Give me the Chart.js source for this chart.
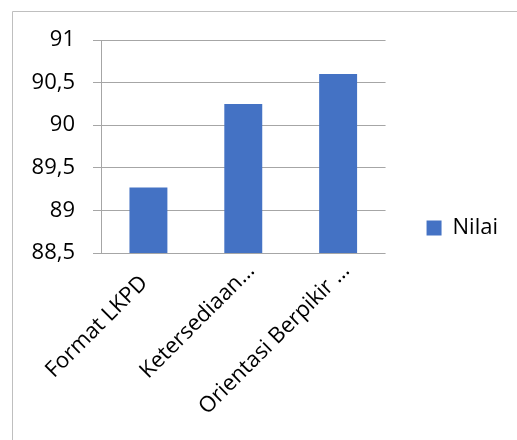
<!DOCTYPE html>
<html>
<head>
<meta charset="utf-8">
<script src="https://cdn.jsdelivr.net/npm/chart.js@4/dist/chart.umd.min.js"></script>
<style>
  html, body { margin: 0; padding: 0; background: #fff; }
  #wrap { position: relative; width: 517px; height: 440px; }
</style>
</head>
<body>
<div id="wrap"><canvas id="chart" width="517" height="440"></canvas></div>
<script>
// Bar chart of "Nilai" per LKPD aspect

const categories = ['Format LKPD', 'Ketersediaan…', 'Orientasi Berpikir …'];
const nilai = [89.27, 90.25, 90.6];
const yMin = 88.5;
const yMax = 91;
const yStep = 0.5;

const FONT = { family: '"Open Sans", sans-serif', size: 22 };
const GRID_COLOR = '#a6a6a6';

// Frame line around the chart object (top and left edges are visible)
const framePlugin = {
    id: 'frame',
    beforeDraw(chart) {
        const ctx = chart.ctx;
        ctx.save();
        ctx.strokeStyle = '#bfbfbf';
        ctx.lineWidth = 1;
        ctx.beginPath();
        ctx.moveTo(12.5, chart.height);
        ctx.lineTo(12.5, 11.5);
        ctx.lineTo(chart.width, 11.5);
        ctx.stroke();
        ctx.restore();
    }
};

const ctx = document.getElementById('chart').getContext('2d');
new Chart(ctx, {
    type: 'bar',
    data: {
        labels: categories,
        datasets: [
            {
                label: 'Nilai',
                data: nilai,
                backgroundColor: '#4472c4',
                borderWidth: 0,
                barPercentage: 0.4,
                categoryPercentage: 1
            }
        ]
    },
    options: {
        animation: false,
        responsive: false,
        layout: {
            padding: { top: 16, left: 0, right: 9, bottom: 0 }
        },
        plugins: {
            // empty title only reserves space above the plot
            title: {
                display: true,
                text: ' ',
                padding: 0,
                font: { size: 20, lineHeight: 1.2 }
            },
            legend: {
                position: 'right',
                labels: {
                    color: '#000',
                    font: FONT,
                    boxWidth: 15,
                    boxHeight: 15,
                    padding: 41
                }
            },
            tooltip: { enabled: false }
        },
        scales: {
            x: {
                grid: { display: false, drawTicks: false },
                border: { display: false },
                ticks: {
                    color: '#000',
                    font: FONT,
                    minRotation: 45,
                    maxRotation: 45,
                    autoSkip: false,
                    labelOffset: 8,
                    padding: 5,
                    // the untruncated label sits a little further from its tick
                    callback: (v, i) => i === 0 ? categories[i] + '   ' : categories[i]
                },
                afterFit(scale) {
                    scale.height = 440 - 253;
                }
            },
            y: {
                min: yMin,
                max: yMax,
                grid: {
                    color: GRID_COLOR,
                    lineWidth: 1,
                    drawTicks: true,
                    tickLength: 8,
                    tickColor: GRID_COLOR
                },
                border: { display: true, color: GRID_COLOR, width: 1 },
                ticks: {
                    stepSize: yStep,
                    color: '#000',
                    font: FONT,
                    padding: 18,
                    callback: v => String(v).replace('.', ',')
                },
                afterFit(scale) {
                    scale.width = 101;
                }
            }
        }
    },
    plugins: [framePlugin]
});
</script>
</body>
</html>
